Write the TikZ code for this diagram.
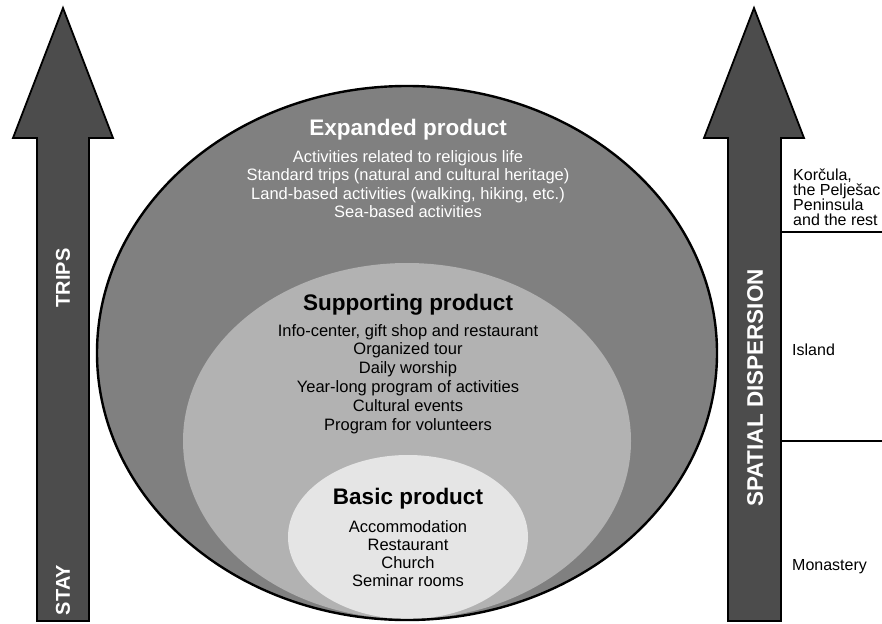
\documentclass[tikz,border=0pt]{standalone}
\usepackage{fontspec}
\setmainfont{Liberation Sans}
\begin{document}
\begin{tikzpicture}[x=1pt,y=-1pt,
  bigarrow/.style={draw=black,line width=1.8pt,fill=arrowgray,line join=miter},
  ring/.style={line width=2.4pt},
  title/.style={font=\fontsize{22.5}{26}\selectfont\bfseries,anchor=center},
  items/.style={font=\fontsize{16.5}{18.6}\selectfont,align=center,anchor=north,inner sep=0pt},
  axis/.style={font=\fontsize{20}{22}\selectfont\bfseries,text=white,rotate=90},
  side/.style={font=\fontsize{16}{15}\selectfont,align=left,inner sep=0pt}]
\definecolor{arrowgray}{gray}{0.30}
\definecolor{outergray}{gray}{0.50}
\definecolor{midgray}{gray}{0.70}
\definecolor{innergray}{gray}{0.90}
\useasboundingbox (0,0) rectangle (882,623);

% nested product ellipses
\fill[outergray] (407,353) ellipse [x radius=310, y radius=267];
\fill[midgray] (407,441) ellipse [x radius=224, y radius=178];
\fill[innergray] (408,537) ellipse [x radius=120, y radius=82];
\draw[ring] (407,353) ellipse [x radius=310, y radius=267];

% left arrow
\draw[bigarrow] (37,621) -- (37,138) -- (13,138) -- (63,8) -- (113,138)
  -- (89,138) -- (89,621) -- cycle;
\node[axis] (trips) at (63,278) {TRIPS};
\node[axis] (stay) at (63,590) {STAY};

% right arrow
\draw[bigarrow] (728,621) -- (728,138) -- (704,138) -- (754,8) -- (804,138)
  -- (781,138) -- (781,621) -- cycle;
\node[axis,font=\fontsize{22.5}{24}\selectfont\bfseries] (spatial) at (755,388) {SPATIAL DISPERSION};

% zone dividers beside the right arrow
\coordinate (d1a) at (781,232);
\coordinate (d1b) at (884,232);
\coordinate (d2a) at (781,441);
\coordinate (d2b) at (884,441);
\draw[line width=1.2pt] (d1a) -- (d1b);
\draw[line width=1.2pt] (d2a) -- (d2b);
\node[side,anchor=north west] (wide) at (793,169) {Korčula,\\the Pelješac\\Peninsula\\and the rest};
\node[side,anchor=west] (island) at (792,350) {Island};
\node[side,anchor=west] (monastery) at (792,567) {Monastery};

% expanded product
\node[title,text=white] (exp) at (408,130) {Expanded product};
\node[items,text=white] (expitems) at (408,150) {Activities related to religious life\\
  Standard trips (natural and cultural heritage)\\
  Land-based activities (walking, hiking, etc.)\\
  Sea-based activities};

% supporting product
\node[title] (sup) at (408,305) {Supporting product};
\node[items,font=\fontsize{16.5}{18.8}\selectfont] (supitems) at (408,324) {Info-center, gift shop and restaurant\\
  Organized tour\\Daily worship\\Year-long program of activities\\
  Cultural events\\Program for volunteers};

% basic product
\node[title] (basic) at (408,499) {Basic product};
\node[items,font=\fontsize{16.5}{18}\selectfont] (basicitems) at (408,520) {Accommodation\\Restaurant\\Church\\Seminar rooms};
\end{tikzpicture}
\end{document}
